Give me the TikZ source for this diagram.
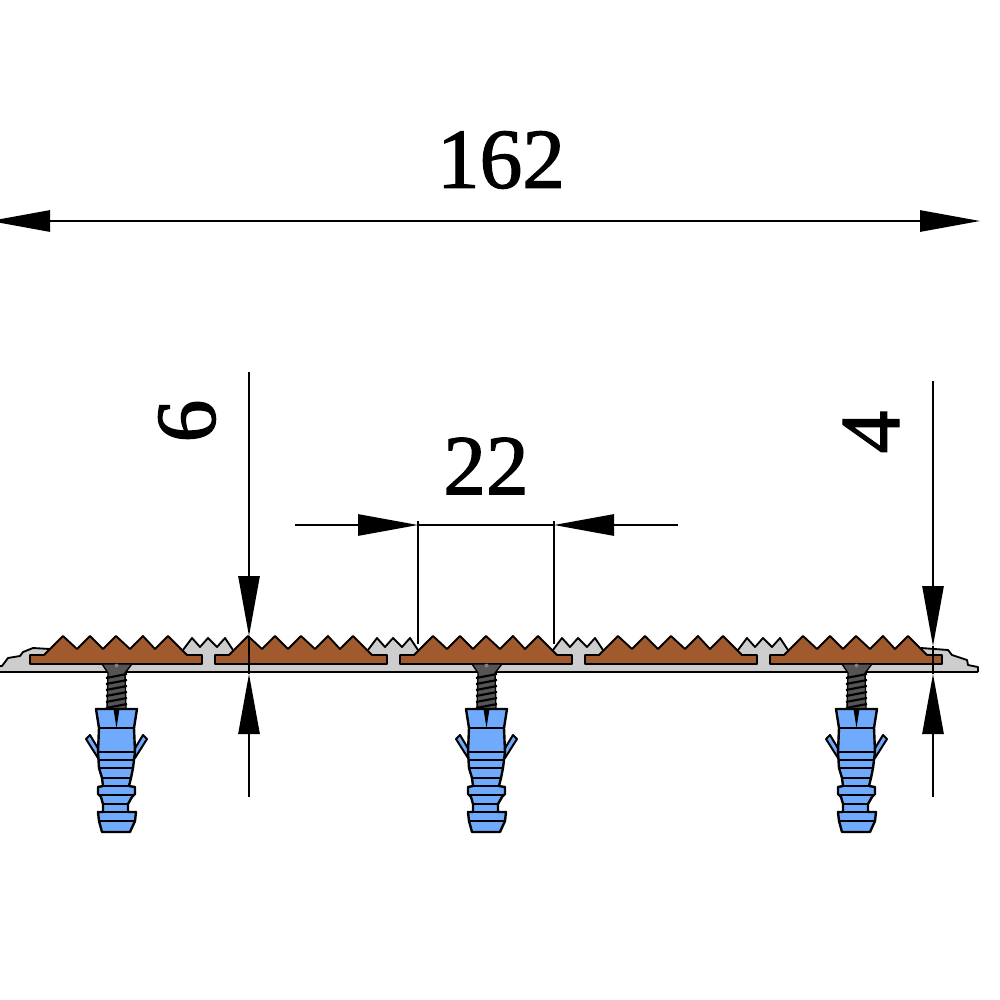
\documentclass[tikz,border=0pt]{standalone}
\usepackage{fontspec}
\newfontfamily\dimfont[FakeBold=1.5]{Liberation Serif}
\usetikzlibrary{arrows.meta}
\definecolor{stripgray}{RGB}{205,205,205}
\definecolor{toothbrown}{RGB}{160,90,45}
\definecolor{plugblue}{RGB}{112,170,252}
\definecolor{screwgray}{RGB}{85,85,85}
\tikzset{
  dimarrow/.style={line width=1.3pt,-{Stealth[length=45pt,width=16pt,inset=0pt]}},
  dimboth/.style={line width=1.3pt,{Stealth[length=45pt,width=16pt,inset=0pt]}-{Stealth[length=45pt,width=16pt,inset=0pt]}},
  extline/.style={line width=1.3pt},
  dimlabel/.style={inner sep=0pt,font=\dimfont\fontsize{64}{64}\selectfont},
  outline/.style={draw=black,line width=1.4pt,line join=round},
  plugline/.style={draw=black,line width=1.8pt,line join=round},
}
\begin{document}
\begin{tikzpicture}[x=0.75pt,y=0.75pt,yscale=-1,xscale=1]
\useasboundingbox (0,0) rectangle (1000,1000);

%Base strip
\fill [stripgray] (-8,672) -- (-8,667) -- (2,666) -- (5,662) -- (8,658) -- (20,656) -- (23,652) -- (33,648) -- (50,649) -- (50,660) -- (921,660) -- (921,648) -- (948,650) -- (952,655) -- (967,660) -- (968,665) -- (978,667) -- (978,672) -- cycle ;
\draw [outline] (-8,667) -- (2,666) -- (5,662) -- (8,658) -- (20,656) -- (23,652) -- (33,648) -- (50,649) ;
\draw [outline] (921,648) -- (948,650) -- (952,655) -- (967,660) -- (968,665) -- (978,667) -- (978,672) ;
\draw [line width=1.8pt] (-8,672) -- (978,672) ;

%Small gray teeth between the brown segments
\foreach \sx in {0,185,370,555} {
  \begin{scope}[xshift=\sx*0.75pt]
  \fill [stripgray] (180,664) -- (183,650) -- (192,638) -- (200,647) -- (208,638) -- (217,647) -- (225,638) -- (233,650) -- (236,664) -- cycle ;
  \draw [outline] (183,650) -- (192,638) -- (200,647) -- (208,638) -- (217,647) -- (225,638) -- (233,650) ;
  \end{scope}
}

%Brown segments
\foreach \sx in {0,185,370,555,740} {
  \begin{scope}[xshift=\sx*0.75pt]
  \draw [outline,fill=toothbrown] (30,655) -- (44,655) -- (63,636) -- (77,649) -- (90,636) -- (103,649) -- (116,636) -- (130,649) -- (143,636) -- (155,649) -- (168,636) -- (187,655) -- (202,655) -- (202,664) -- (30,664) -- cycle ;
  \end{scope}
}

%Screws and plugs
\foreach \sx in {0,370,740} {
  \begin{scope}[xshift=\sx*0.75pt]
  %Screw
  \fill [screwgray,draw=black,line width=1pt] (102,664) -- (132,664) -- (125,673) -- (126,709) -- (107,709) -- (108,673) -- cycle ;
  \fill [gray] (116.5,665.5) circle [radius=2] ;
  \draw [black,line width=1.6pt] (106,678) -- (127,674) (106,684) -- (127,680) (106,690) -- (127,686) (106,696) -- (127,692) (106,702) -- (127,698) (106,708) -- (127,704) ;
  %Wings
  \draw [plugline,line width=1.5pt,fill=plugblue] (86,739) -- (90,735) -- (99,750) -- (98,758) -- cycle ;
  \draw [plugline,line width=1.5pt,fill=plugblue] (147,739) -- (143,735) -- (134,750) -- (135,758) -- cycle ;
  %Plug
  \draw [plugline,fill=plugblue] (96,709) -- (137,709) -- (134,728) -- (135,752) -- (133,768) -- (131,778) -- (129,786) -- (135,787) -- (135,794) -- (132,797) -- (128,804) -- (128,812) -- (136,812) -- (135,821) -- (130,832) -- (102,832) -- (99,821) -- (98,812) -- (103,812) -- (103,804) -- (101,797) -- (98,794) -- (98,787) -- (103,786) -- (102,778) -- (99,768) -- (98,752) -- (99,728) -- cycle ;
  \draw [plugline] (99,728) -- (134,728) (98,752) -- (135,752) (98,760) -- (134,760) (99,768) -- (133,768) (102,778) -- (131,778) (103,786) -- (129,786) (98,795) -- (135,795) (103,804) -- (128,804) (103,812) -- (128,812) (99,821) -- (135,821) ;
  \fill [black] (113.5,709) -- (119.5,709) -- (116.5,728) -- cycle ;
  \end{scope}
}

%Dimension 162
\coordinate (overallleft) at (-10,221) ;
\coordinate (overallright) at (980,221) ;
\draw [dimboth] (overallleft) -- (overallright) ;
\node (overalltext) at (501,160) [dimlabel] {162};

%Dimension 22
\coordinate (pitchstart) at (295,525) ;
\coordinate (pitchleft) at (418,525) ;
\coordinate (pitchright) at (554,525) ;
\coordinate (pitchend) at (678,525) ;
\coordinate (pitchlefttop) at (418,521) ;
\coordinate (pitchrighttop) at (554,521) ;
\coordinate (pitchleftfoot) at (418,644) ;
\coordinate (pitchrightfoot) at (554,644) ;
\draw [dimarrow] (pitchstart) -- (pitchleft) ;
\draw [dimarrow] (pitchend) -- (pitchright) ;
\draw [extline] (pitchleft) -- (pitchright) ;
\draw [extline] (pitchlefttop) -- (pitchleftfoot) ;
\draw [extline] (pitchrighttop) -- (pitchrightfoot) ;
\node (pitchtext) at (486,466) [dimlabel] {22};

%Dimension 6
\coordinate (heightsix) at (249,372) ;
\coordinate (heightsixtop) at (249,636) ;
\coordinate (heightsixbottom) at (249,674) ;
\coordinate (heightsixend) at (249,797) ;
\draw [dimarrow] (heightsix) -- (heightsixtop) ;
\draw [dimarrow] (heightsixend) -- (heightsixbottom) ;
\draw [extline] (heightsixtop) -- (heightsixbottom) ;
\node (heightsixtext) at (187,421) [dimlabel,rotate=90] {6};

%Dimension 4
\coordinate (heightfour) at (933,381) ;
\coordinate (heightfourtop) at (933,646) ;
\coordinate (heightfourbottom) at (933,674) ;
\coordinate (heightfourend) at (933,797) ;
\draw [dimarrow] (heightfour) -- (heightfourtop) ;
\draw [dimarrow] (heightfourend) -- (heightfourbottom) ;
\draw [extline] (heightfourtop) -- (heightfourbottom) ;
\node (heightfourtext) at (871,432) [dimlabel,rotate=90] {4};

\end{tikzpicture}
\end{document}
